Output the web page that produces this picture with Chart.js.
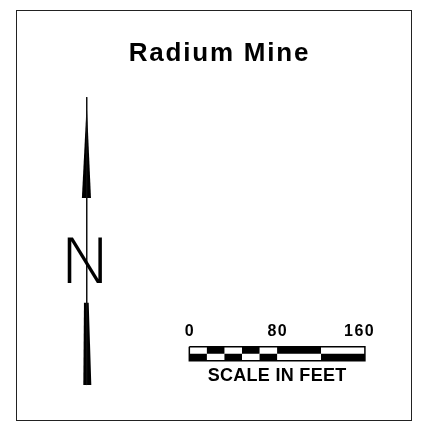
<!DOCTYPE html>
<html><head><meta charset="utf-8">
<script src="https://cdn.jsdelivr.net/npm/chart.js@4.4.1/dist/chart.umd.min.js"></script>
<style>html,body{margin:0;padding:0;background:#fff}#wrap{width:425px;height:423px;position:relative}</style>
</head><body><div id="wrap"><canvas id="c"></canvas></div>
<script>
// ---- content (map units: x in feet along the scale bar, y in the same map units) ----
const TITLE = 'Radium Mine';
const SCALE_CAPTION = 'SCALE IN FEET';
const SCALE_TICKS_FT = [0, 80, 154.5];            // where each tick label sits
const SCALE_TICK_LABELS = ['0', '80', '160'];
const SCALE_EDGES_FT = [0, 16, 32, 48, 64, 80, 120, 160];
const SCALE_TOP_ROW_BLACK = [false, true, false, true, false, true, false];
const SCALE_ROWS_Y = [67.5, 61.2, 54.9];          // top, middle, bottom of the bar
const TICK_LABEL_Y = 77.7;
const CAPTION_Y = 36.6;
const NORTH_X = -93.5;
const NORTH_LINE_Y = [294.5, 32.7];
const NORTH_HEAD_X = [-97.9, -93.5, -89.6];
const NORTH_HEAD_Y = [202.7, 289, 202.7];
const NORTH_TAIL_X = [-96.0, -91.7, -89.3, -96.6];
const NORTH_TAIL_Y = [107.5, 107.5, 32.7, 32.7];
const NORTH_LETTER = 'N';
const NORTH_LETTER_POS = [-94.1, 125.5];

const FONT = "'Liberation Sans', Arial, Helvetica, sans-serif";
const pts = (xs, ys) => xs.map((x, i) => ({x, y: ys[i]}));
const NONE = 'rgba(0,0,0,0)';

const datasets = [];
datasets.push({data: pts([NORTH_X, NORTH_X], NORTH_LINE_Y), showLine: true, borderColor: '#111', borderWidth: 1, pointRadius: 0, fill: false});
datasets.push({data: pts(NORTH_HEAD_X, NORTH_HEAD_Y), showLine: true, borderColor: NONE, borderWidth: 0, backgroundColor: '#000', fill: 'shape', pointRadius: 0});
datasets.push({data: pts(NORTH_TAIL_X, NORTH_TAIL_Y), showLine: true, borderColor: NONE, borderWidth: 0, backgroundColor: '#000', fill: 'shape', pointRadius: 0});
const [yT, yM, yB] = SCALE_ROWS_Y;
for (let i = 0; i < SCALE_EDGES_FT.length - 1; i++) {
  const x0 = SCALE_EDGES_FT[i], x1 = SCALE_EDGES_FT[i + 1];
  const ys = SCALE_TOP_ROW_BLACK[i] ? [yT, yM] : [yM, yB];
  datasets.push({data: pts([x0, x1, x1, x0], [ys[0], ys[0], ys[1], ys[1]]), showLine: true, borderColor: NONE, borderWidth: 0, backgroundColor: '#000', fill: 'shape', pointRadius: 0});
}
const lo = SCALE_EDGES_FT[0], hi = SCALE_EDGES_FT[SCALE_EDGES_FT.length - 1];
datasets.push({data: pts([lo, hi, hi, lo, lo], [yT, yT, yB, yB, yT]), showLine: true, borderColor: '#000', borderWidth: 1.5, pointRadius: 0, fill: false});

const decor = {
  id: 'decor',
  beforeDraw(chart) { chart.ctx.letterSpacing = '1.8px'; },
  beforeDatasetsDraw(chart) { chart.ctx.letterSpacing = '0px'; },
  afterDraw(chart) {
    const {ctx, scales: {x, y}} = chart;
    ctx.save();
    ctx.strokeStyle = '#222'; ctx.lineWidth = 1;
    ctx.strokeRect(16.5, 10.5, 395, 410);
    ctx.fillStyle = '#000'; ctx.textAlign = 'center'; ctx.textBaseline = 'alphabetic';
    ctx.font = 'bold 16px ' + FONT; ctx.letterSpacing = '1.5px';
    SCALE_TICKS_FT.forEach((v, i) => ctx.fillText(SCALE_TICK_LABELS[i], x.getPixelForValue(v) + 0.75, y.getPixelForValue(TICK_LABEL_Y)));
    ctx.font = 'bold 18px ' + FONT; ctx.letterSpacing = '0.3px';
    ctx.fillText(SCALE_CAPTION, x.getPixelForValue((lo + hi) / 2), y.getPixelForValue(CAPTION_Y));
    ctx.letterSpacing = '0px';
    ctx.font = "200 60px 'DejaVu Sans', sans-serif";
    ctx.translate(x.getPixelForValue(NORTH_LETTER_POS[0]), y.getPixelForValue(NORTH_LETTER_POS[1]));
    ctx.scale(1.2, 1.03);
    ctx.fillText(NORTH_LETTER, 0, 0);
    ctx.restore();
  }
};

new Chart(document.getElementById('c'), {
  type: 'scatter',
  data: {datasets},
  options: {
    responsive: true, maintainAspectRatio: false, animation: false, events: [],
    layout: {padding: {left: 28, right: 14, top: 10, bottom: 2}},
    scales: {
      x: {type: 'linear', min: -147, max: 202, display: false},
      y: {type: 'linear', min: 0, max: 321, display: false}
    },
    plugins: {
      legend: {display: false}, tooltip: {enabled: false},
      title: {display: true, text: TITLE, color: '#000', padding: {top: 29, bottom: 0},
        font: {family: FONT, size: 26, weight: 'bold', lineHeight: '29px'}}
    }
  },
  plugins: [decor]
});
</script></body></html>
